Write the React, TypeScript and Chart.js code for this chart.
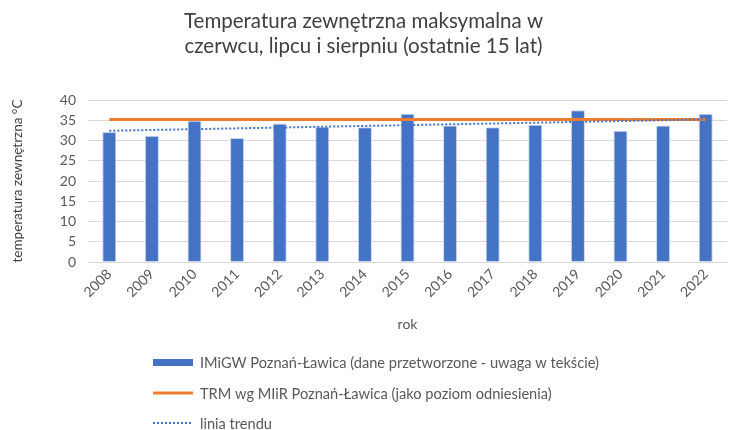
import React, { useEffect, useRef } from "react";
import { Chart, registerables } from "chart.js";

Chart.register(...registerables);

const years = ["2008", "2009", "2010", "2011", "2012", "2013", "2014", "2015", "2016", "2017", "2018", "2019", "2020", "2021", "2022"];
const imgwValues = [32.1, 31.2, 34.9, 30.6, 34.2, 33.4, 33.3, 36.6, 33.7, 33.3, 33.9, 37.5, 32.4, 33.7, 36.6];
const trmValues = [35.2, 35.2, 35.2, 35.2, 35.2, 35.2, 35.2, 35.2, 35.2, 35.2, 35.2, 35.2, 35.2, 35.2, 35.2];
const trendValues = [32.4, null, null, null, null, null, null, null, null, null, null, null, null, null, 35.2];
const yTicks = [0, 5, 10, 15, 20, 25, 30, 35, 40];

const titleLines = ["Temperatura zewnętrzna maksymalna w", "czerwcu, lipcu i sierpniu (ostatnie 15 lat)"];
const legendLabels = [
  "IMiGW Poznań-Ławica (dane przetworzone - uwaga w tekście)",
  "TRM wg MIiR Poznań-Ławica (jako poziom odniesienia)",
  "linia trendu",
];

const FONT = "Lato, 'Open Sans', sans-serif";
const BLUE = "#4472C4";
const ORANGE = "#ED7D31";
const TEXT = "#595959";

const legendPlugin = {
  id: "customLegend",
  afterDraw(chart: any) {
    const ctx = chart.ctx;
    const x0 = 153;
    const ys = [362, 393, 423];
    ctx.save();
    ctx.font = `14.6px ${FONT}`;
    ctx.fillStyle = TEXT;
    ctx.textBaseline = "middle";
    chart.data.datasets.forEach((ds: any, i: number) => {
      const y = ys[i];
      if (i === 0) {
        ctx.fillStyle = BLUE;
        ctx.fillRect(x0, y - 3, 40, 7);
      } else if (i === 1) {
        ctx.strokeStyle = ORANGE;
        ctx.lineWidth = 3;
        ctx.setLineDash([]);
        ctx.beginPath();
        ctx.moveTo(x0, y);
        ctx.lineTo(x0 + 40, y);
        ctx.stroke();
      } else {
        ctx.strokeStyle = BLUE;
        ctx.lineWidth = 2;
        ctx.setLineDash([2, 2]);
        ctx.beginPath();
        ctx.moveTo(x0, y);
        ctx.lineTo(x0 + 40, y);
        ctx.stroke();
        ctx.setLineDash([]);
      }
      ctx.fillStyle = TEXT;
      ctx.fillText(ds.label, x0 + 47, y + 1);
    });
    ctx.restore();
  },
};

export default function App() {
  const ref = useRef<HTMLCanvasElement>(null);
  useEffect(() => {
    const chart = new Chart(ref.current!, {
      type: "bar",
      data: {
        labels: years,
        datasets: [
          {
            type: "bar",
            label: legendLabels[0],
            data: imgwValues,
            backgroundColor: BLUE,
            borderColor: "#c9d6ee",
            borderWidth: 1,
            barPercentage: 0.33,
            categoryPercentage: 1,
            order: 3,
          },
          {
            type: "line",
            label: legendLabels[1],
            data: trmValues,
            borderColor: ORANGE,
            borderWidth: 3,
            pointRadius: 0,
            order: 2,
          },
          {
            type: "line",
            label: legendLabels[2],
            data: trendValues as any,
            borderColor: BLUE,
            borderWidth: 2,
            borderDash: [2, 2],
            pointRadius: 0,
            spanGaps: true,
            order: 1,
          },
        ] as any,
      },
      options: {
        animation: false,
        responsive: false,
        maintainAspectRatio: false,
        layout: { padding: { left: 0, right: 2, top: 0, bottom: 97 } },
        plugins: {
          legend: { display: false },
          tooltip: { enabled: false },
          title: {
            display: true,
            text: titleLines,
            color: "#404040",
            font: { family: FONT, size: 20.5, weight: "normal", lineHeight: 1.2 },
            padding: { top: 9, bottom: 41.8 },
          },
        },
        scales: {
          x: {
            grid: { display: false, drawTicks: false },
            border: { display: true, color: "#d9d9d9" },
            ticks: {
              color: TEXT,
              font: { family: FONT, size: 14 },
              maxRotation: 45,
              minRotation: 45,
              padding: 4,
            },
            title: {
              display: true,
              text: "rok",
              color: TEXT,
              font: { family: FONT, size: 14 },
              padding: { top: 0, bottom: 0 },
            },
            afterFit(scale: any) {
              scale.height = 71;
            },
          },
          y: {
            min: 0,
            max: 40,
            afterBuildTicks(scale: any) {
              scale.ticks = yTicks.map((v) => ({ value: v }));
            },
            grid: { color: "#d9d9d9", drawTicks: false },
            border: { display: false },
            ticks: {
              color: TEXT,
              font: { family: FONT, size: 14 },
              padding: 12,
            },
            title: {
              display: true,
              text: "temperatura zewnętrzna °C",
              color: "#404040",
              font: { family: FONT, size: 13.5 },
              padding: { top: 10, bottom: 0 },
            },
            afterFit(scale: any) {
              scale.width = 88;
            },
          },
        },
      },
      plugins: [legendPlugin],
    });
    return () => chart.destroy();
  }, []);
  return (
    <div style={{ position: "absolute", left: 0, top: 0, width: 729, height: 430, background: "#fff" }}>
      <canvas ref={ref} width={729} height={430} />
    </div>
  );
}
